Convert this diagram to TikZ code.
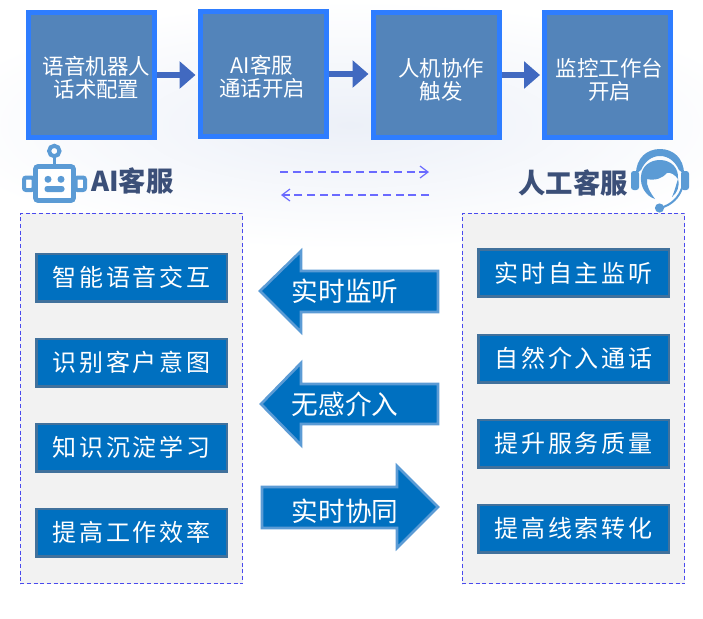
\documentclass[tikz,border=0pt]{standalone}
\usepackage{fontspec}
\usetikzlibrary{arrows.meta}
\newfontfamily\cjk{Noto Sans CJK SC}
\newfontfamily\cjkspaced[LetterSpace=12]{Noto Sans CJK SC}
\definecolor{boxblue}{HTML}{5384BA}
\definecolor{boxedge}{HTML}{2E7DFF}
\definecolor{flowblue}{HTML}{4169C0}
\definecolor{itemblue}{HTML}{0070C0}
\definecolor{itemedge}{HTML}{41719C}
\definecolor{panelfill}{HTML}{F2F2F2}
\definecolor{paneledge}{HTML}{4A4AEE}
\definecolor{iconblue}{HTML}{5B9BD5}
\definecolor{titleblue}{HTML}{3B4F78}
\definecolor{dashblue}{HTML}{6A6AFF}
\definecolor{glow}{HTML}{ECF0F8}
\tikzset{
  x=0.75pt,y=-0.75pt,
  flowbox/.style={draw=boxedge,line width=3.75pt,fill=boxblue,minimum width=94.5pt,minimum height=94pt,inner sep=0pt},
  flowtext/.style={text=white,align=center,inner sep=0pt,font=\cjk\fontsize{16.1pt}{17pt}\selectfont},
  flowarrow/.style={draw=flowblue,line width=4.5pt,-{Triangle[length=12pt,width=20pt,fill=flowblue]},shorten >=1.5pt},
  panel/.style={draw=paneledge,fill=panelfill,dashed,line width=0.75pt,dash pattern=on 3pt off 2pt,minimum width=167pt,minimum height=278pt,inner sep=0pt},
  item/.style={draw=itemedge,line width=2pt,fill=itemblue,text=white,minimum width=143pt,minimum height=35.5pt,inner sep=0pt,font=\cjkspaced\fontsize{18pt}{20pt}\selectfont},
  bigarrow/.style={draw=iconblue,line width=2pt,fill=itemblue,line join=miter},
  bigtext/.style={text=white,inner sep=0pt,font=\cjk\fontsize{20pt}{22pt}\selectfont},
  title/.style={text=titleblue,inner sep=0pt,font=\cjk\bfseries\fontsize{20.5pt}{22pt}\selectfont},
  dashlink/.style={draw=dashblue,line width=0.9pt,dash pattern=on 6pt off 3.5pt,-{Straight Barb[length=6pt,width=9pt]}}
}
\begin{document}
\begin{tikzpicture}
\useasboundingbox (0,0) rectangle (703,618);
\fill[white] (0,0) rectangle (703,618);
\shade[inner color=glow,outer color=white] (350,125) ellipse [x radius=420,y radius=125];

% flow boxes
\node[flowbox] (b1) at (91.5,75) {};
\node[flowbox] (b2) at (263,74) {};
\node[flowbox] (b3) at (436,75) {};
\node[flowbox] (b4) at (607.5,75) {};
\node[flowtext] (t1) at (96.5,78) {语音机器人\\话术配置};
\node[flowtext] (t2) at (262,77) {AI客服\\通话开启};
\node[flowtext] (t3) at (441,80) {人机协作\\触发};
\node[flowtext] (t4) at (609.5,80) {监控工作台\\开启};
\draw[flowarrow] (b1.east) -- (b2.west |- b1.east);
\draw[flowarrow] (b2.east) -- (b3.west |- b2.east);
\draw[flowarrow] (b3.east) -- (b4.west);

% robot icon
\draw[iconblue,line width=3pt] (54.3,151) circle (5.2);
\draw[iconblue,line width=2.6pt] (54.3,158) -- (54.3,165);
\draw[iconblue,line width=3.6pt,rounded corners=2pt,fill=white] (35.5,166.5) rectangle (73.5,200.5);
\draw[iconblue,line width=3pt,rounded corners=1.5pt,fill=white] (24,177.5) rectangle (33.5,190);
\draw[iconblue,line width=3pt,rounded corners=1.5pt,fill=white] (75.5,177.5) rectangle (85,190);
\fill[iconblue] (48,179.3) circle (3.5);
\fill[iconblue] (61,179.3) circle (3.5);
\fill[iconblue,rounded corners=2pt] (44.5,186) rectangle (64.5,192);
\node[title,anchor=west] (ait) at (91,181) {AI客服};

% headset icon
\fill[iconblue] (636,174) .. controls (636,158) and (647,149) .. (660,149) .. controls (673,149) and (684,158) .. (684,174) -- (679,170) .. controls (675,161) and (668,156) .. (660,156) .. controls (652,156) and (645,161) .. (641,170) -- cycle;
\fill[iconblue,rounded corners=2pt] (631,171) rectangle (639,190);
\fill[iconblue,rounded corners=2pt] (681,171) rectangle (689,190);
\fill[iconblue] (660,160) .. controls (650,160) and (642,166) .. (641,176) .. controls (640,187) and (646,196) .. (655,199) .. controls (650,192) and (646,186) .. (647,179) .. controls (655,181) and (663,178) .. (667,173) .. controls (671,172) and (675,175) .. (678,179) .. controls (679,168) and (671,160) .. (660,160) -- cycle;
\fill[iconblue] (678,179) .. controls (680,187) and (677,193) .. (672,197) .. controls (675,190) and (676,185) .. (678,179) -- cycle;
\draw[iconblue,line width=1.5pt] (682,188) .. controls (679,197) and (672,205) .. (660,208);
\fill[iconblue] (659.5,208) circle (4.6);
\node[title,anchor=east] (hut) at (628,183) {人工客服};

% dashed links
\coordinate (d1s) at (280,172);
\coordinate (d1e) at (429,172);
\coordinate (d2s) at (429,195);
\coordinate (d2e) at (281,195);
\draw[dashlink] (d1s) -- (d1e);
\draw[dashlink] (d2s) -- (d2e);

% panels
\node[panel] (pl) at (131.5,398.5) {};
\node[panel] (pr) at (573.5,398.5) {};
\node[item] (l1) at (131.5,277.5) {智能语音交互};
\node[item] (l2) at (131.5,362.5) {识别客户意图};
\node[item] (l3) at (131.5,447.5) {知识沉淀学习};
\node[item] (l4) at (131.5,532.5) {提高工作效率};
\node[item] (r1) at (573.5,273) {实时自主监听};
\node[item] (r2) at (573.5,358.5) {自然介入通话};
\node[item] (r3) at (573.5,443.5) {提升服务质量};
\node[item] (r4) at (573.5,528.5) {提高线索转化};

% big arrows
\draw[bigarrow] (260,291) -- (301,251) -- (301,271) -- (438,271) -- (438,312) -- (301,312) -- (301,332) -- cycle;
\node[bigtext] (a1) at (345,291) {实时监听};
\draw[bigarrow] (261,404) -- (301,363) -- (301,384) -- (438,384) -- (438,424) -- (301,424) -- (301,445) -- cycle;
\node[bigtext] (a2) at (345,404) {无感介入};
\draw[bigarrow] (438,507) -- (397,466) -- (397,487) -- (262,487) -- (262,528) -- (397,528) -- (397,548) -- cycle;
\node[bigtext] (a3) at (345,511) {实时协同};
\end{tikzpicture}
\end{document}
